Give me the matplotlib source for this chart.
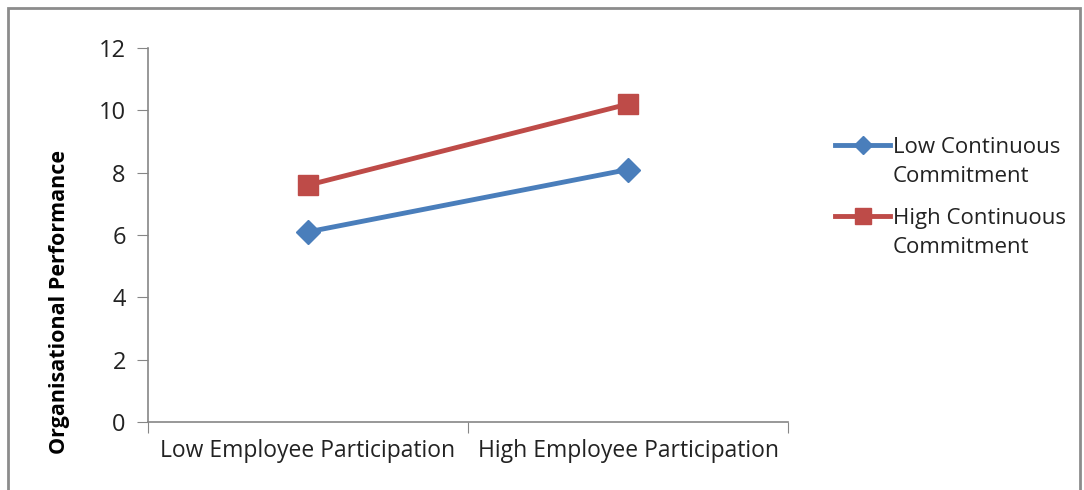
import matplotlib
matplotlib.use("Agg")
import matplotlib.pyplot as plt
from matplotlib.patches import Rectangle

# data
categories = ["Low Employee Participation", "High Employee Participation"]
low_commit = [6.1, 8.1]
high_commit = [7.6, 10.2]
series_first = ["Low Continuous", "High Continuous"]
series_second = "Commitment"
yticks = [0, 2, 4, 6, 8, 10, 12]

BLUE = "#4a7ebb"
RED = "#be4b48"
AXIS = "#868686"
TEXT = "#222222"

plt.rcParams["font.family"] = ["Open Sans", "DejaVu Sans"]

fig = plt.figure(figsize=(10.84, 4.90), dpi=100)
fig.patches.append(Rectangle((8 / 1084, -0.01), 1072 / 1084, 1 - 8 / 490 + 0.01,
                             transform=fig.transFigure, fill=False,
                             edgecolor="#8c8c8c", lw=2))

ax = fig.add_axes([148 / 1084, 1 - 422 / 490, 640 / 1084, 374 / 490])
x = [0.5, 1.5]
ax.plot(x, low_commit, color=BLUE, lw=3.5, marker="D", ms=12,
        label=series_first[0], zorder=3)
ax.plot(x, high_commit, color=RED, lw=3.5, marker="s", ms=15,
        label=series_first[1], zorder=3)

ax.set_xlim(0, 2)
ax.set_ylim(0, 12)
ax.set_yticks(yticks)
ax.set_xticks([0, 1, 2])
ax.set_xticklabels([])
ax.set_xticks(x, minor=True)
ax.set_xticklabels(categories, minor=True)
ax.tick_params(axis="x", which="minor", length=0, pad=12, labelsize=16.5,
               labelcolor=TEXT)
ax.tick_params(axis="x", which="major", length=8, color=AXIS, direction="out")
ax.tick_params(axis="y", length=8, color=AXIS, direction="out", labelsize=17,
               labelcolor=TEXT, pad=8)
for s in ("top", "right"):
    ax.spines[s].set_visible(False)
for s in ("left", "bottom"):
    ax.spines[s].set_color(AXIS)
    ax.spines[s].set_linewidth(1.2)

fig.text(60 / 1084, 1 - 302 / 490, "Organisational Performance", rotation=90,
         ha="center", va="center", fontsize=15.5, fontweight="bold", color="black")

leg = ax.legend(loc="upper left", bbox_to_anchor=(826 / 1084, 1 - 128 / 490),
                bbox_transform=fig.transFigure, frameon=False, fontsize=16,
                handlelength=2.5, handletextpad=0.1, labelspacing=2.25,
                borderaxespad=0, markerscale=0.8)
for t in leg.get_texts():
    t.set_color(TEXT)

# second line of each legend label sits under the first
for yy in (176, 247):
    fig.text(893 / 1084, 1 - yy / 490, series_second, fontsize=16,
             color=TEXT, ha="left", va="center")

fig.savefig("out.png", dpi=100)
